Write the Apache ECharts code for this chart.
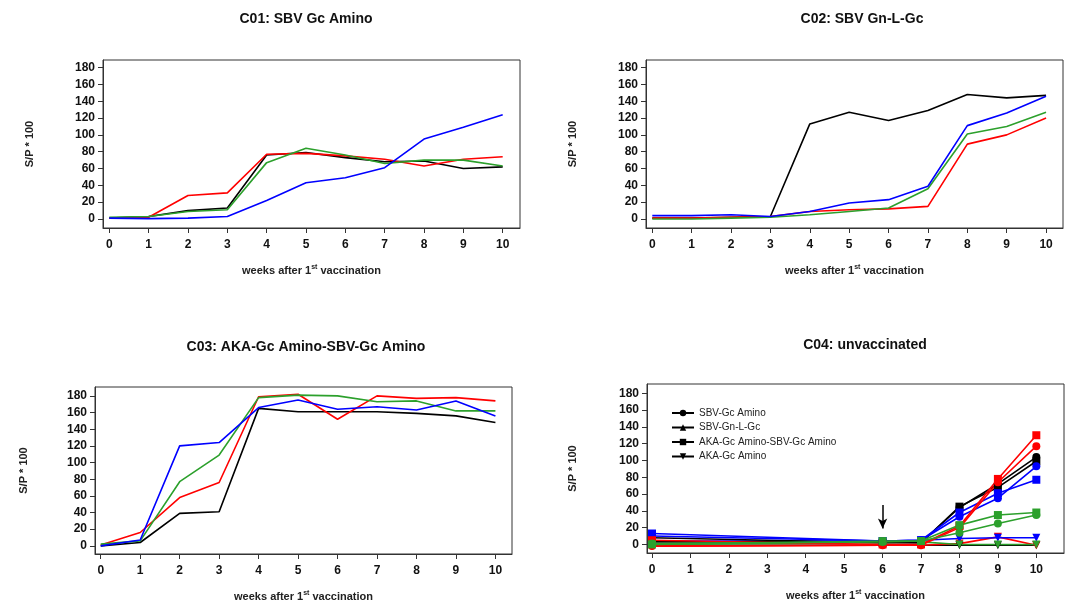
<!DOCTYPE html>
<html>
<head>
<meta charset="utf-8">
<script src="https://cdn.jsdelivr.net/npm/echarts@6/dist/echarts.min.js"></script>
<style>html,body{margin:0;padding:0;background:#fff}#c{width:1072px;height:604px}</style>
</head>
<body>
<div id="c"></div>
<script>
// ---------- data ----------
const weeks = [0,1,2,3,4,5,6,7,8,9,10];
const xTickLabels = [0,1,2,3,4,5,6,7,8,9,10];
const yTickLabels = [0,20,40,60,80,100,120,140,160,180];

const c01Black = [1, 3, 10, 13, 76, 79, 73, 68, 69, 60, 62];
const c01Red   = [1, 2, 28, 31, 77, 78, 75, 71, 63, 71, 74];
const c01Green = [2, 3, 9, 11, 67, 84, 76, 66, 70, 70, 63];
const c01Blue  = [1, 0.5, 1, 3, 22, 43, 49, 61, 95, 109, 124];

const c02Black = [1, 1, 2, 3, 113, 127, 117, 129, 148, 144, 147];
const c02Red   = [1, 1, 2, 3, 9, 11, 12, 15, 89, 100, 120];
const c02Green = [0, 0, 1, 2, 5, 9, 13, 36, 101, 110, 127];
const c02Blue  = [4, 4, 5, 3, 9, 19, 23, 39, 111, 126, 146];

const c03Black = [0, 4, 39, 41, 165, 161, 161, 161, 159, 156, 148];
const c03Red   = [1, 16, 58, 76, 179, 182, 152, 180, 177, 178, 174];
const c03Green = [2, 6, 77, 109, 178, 181, 180, 173, 174, 162, 162];
const c03Blue  = [0, 7, 120, 124, 166, 175, 164, 167, 163, 174, 156];

const weeksC04 = [0, 6, 7, 8, 9, 10];
const groupNames = ['SBV-Gc Amino', 'SBV-Gn-L-Gc', 'AKA-Gc Amino-SBV-Gc Amino', 'AKA-Gc Amino'];
// SBV-Gc Amino (circle)
const c04CircleBlack = [3, 3, 2, 44, 72, 104];
const c04CircleRed   = [-2, -1, -1, 20, 74, 117];
const c04CircleBlue  = [10, 4, 5, 33, 55, 93];
const c04CircleGreen = [1, 3, 4, 14, 25, 35];
// AKA-Gc Amino-SBV-Gc Amino (square)
const c04SquareBlack = [8, 2, 2, 45, 68, 99];
const c04SquareRed   = [5, 0, 0, 22, 78, 130];
const c04SquareBlue  = [13, 4, 5, 38, 61, 77];
const c04SquareGreen = [0, 4, 4, 23, 35, 38];
// AKA-Gc Amino (inverted triangle)
const c04InvBlack = [-1, -1, -1, -1, -1, -1];
const c04InvRed   = [-2, -1, -1, 1, 9, -1];
const c04InvBlue  = [4, 4, 5, 7, 8, 8];
const c04InvGreen = [0, 2, 3, 0, 0, 0];

const arrowWeek = 6, arrowFrom = 47, arrowTo = 19;

const titles = ['C01: SBV Gc Amino', 'C02: SBV Gn-L-Gc', 'C03: AKA-Gc Amino-SBV-Gc Amino', 'C04: unvaccinated'];

// ---------- styles ----------
const COL = {black:'#000000', red:'#ff0000', blue:'#0000ff', green:'#2ca02c'};
const FONT = 'Liberation Sans, Arial, sans-serif';
const pair = (xs, ys) => xs.map((x, i) => [x, ys[i]]);

const grids = [
  {left:103, top:60, width:417, height:168},
  {left:646, top:60, width:417, height:168},
  {left:95, top:387, width:417, height:169},
  {left:647, top:384, width:417, height:169}
];
const xRanges = [[-0.16,10.44],[-0.16,10.43],[-0.145,10.42],[-0.13,10.72]];
const yRanges = [[-10.7,189],[-10.7,189],[-9.8,190.7],[-10.2,191]];
const yNameGaps = [68, 68, 66, 69];
const titlePos = [[301,7],[857,7],[301,335],[860,333]];

const xAxes = grids.map((g, i) => ({
  type:'value', gridIndex:i, min:xRanges[i][0], max:xRanges[i][1], position:'bottom',
  axisLine:{show:true, onZero:false, lineStyle:{color:'#333', width:1}}, splitLine:{show:false},
  axisTick:{show:true, inside:false, length:5, customValues:xTickLabels, lineStyle:{color:'#333'}},
  axisLabel:{customValues:xTickLabels, color:'#111', fontWeight:'bold', fontSize:12, fontFamily:FONT, margin:11},
  name:'{a|weeks after 1}{s|st}{a| vaccination}', nameLocation:'middle', nameGap:36,
  nameTextStyle:{rich:{
    a:{fontSize:11, fontWeight:'bold', fontFamily:FONT, color:'#222', lineHeight:14},
    s:{fontSize:7, fontWeight:'bold', fontFamily:FONT, color:'#222', verticalAlign:'top', lineHeight:14, padding:[0,0,6,0]}
  }}
}));
const yAxes = grids.map((g, i) => ({
  type:'value', gridIndex:i, min:yRanges[i][0], max:yRanges[i][1], position:'left',
  axisLine:{show:true, onZero:false, lineStyle:{color:'#333', width:1}}, splitLine:{show:false},
  axisTick:{show:true, inside:false, length:5, customValues:yTickLabels, lineStyle:{color:'#333'}},
  axisLabel:{customValues:yTickLabels, color:'#111', fontWeight:'bold', fontSize:12, fontFamily:FONT, margin:8},
  name:'S/P * 100', nameLocation:'middle', nameRotate:90, nameGap:yNameGaps[i],
  nameTextStyle:{fontSize:11, fontWeight:'bold', fontFamily:FONT, color:'#222'}
}));

function lineSeries(idx, color, ys) {
  return {type:'line', xAxisIndex:idx, yAxisIndex:idx, data:pair(weeks, ys), showSymbol:false, symbol:'none',
    lineStyle:{color:color, width:1.6}, itemStyle:{color:color}, silent:true, animation:false, z:2};
}
function markerSeries(name, color, symbol, rotate, ys) {
  return {type:'line', name:name, xAxisIndex:3, yAxisIndex:3, data:pair(weeksC04, ys), symbol:symbol, symbolSize:8,
    symbolRotate:rotate, showSymbol:true, lineStyle:{color:color, width:1.6}, itemStyle:{color:color},
    silent:true, animation:false, z:3};
}

const series = [
  lineSeries(0, COL.black, c01Black), lineSeries(0, COL.red, c01Red), lineSeries(0, COL.green, c01Green), lineSeries(0, COL.blue, c01Blue),
  lineSeries(1, COL.black, c02Black), lineSeries(1, COL.red, c02Red), lineSeries(1, COL.green, c02Green), lineSeries(1, COL.blue, c02Blue),
  lineSeries(2, COL.black, c03Black), lineSeries(2, COL.red, c03Red), lineSeries(2, COL.green, c03Green), lineSeries(2, COL.blue, c03Blue),
  markerSeries('inv-black', COL.black, 'triangle', 180, c04InvBlack),
  markerSeries('inv-red', COL.red, 'triangle', 180, c04InvRed),
  markerSeries('inv-blue', COL.blue, 'triangle', 180, c04InvBlue),
  markerSeries('inv-green', COL.green, 'triangle', 180, c04InvGreen),
  markerSeries('sq-black', COL.black, 'rect', 0, c04SquareBlack),
  markerSeries('ci-black', COL.black, 'circle', 0, c04CircleBlack),
  markerSeries('sq-blue', COL.blue, 'rect', 0, c04SquareBlue),
  markerSeries('ci-blue', COL.blue, 'circle', 0, c04CircleBlue),
  markerSeries('ci-red', COL.red, 'circle', 0, c04CircleRed),
  markerSeries('sq-red', COL.red, 'rect', 0, c04SquareRed),
  markerSeries('sq-green', COL.green, 'rect', 0, c04SquareGreen),
  markerSeries('ci-green', COL.green, 'circle', 0, c04CircleGreen)
];
// legend-only series (black), plus the arrow annotation
const legendSymbols = [['circle',0],['triangle',0],['rect',0],['triangle',180]];
groupNames.forEach((n, i) => {
  const s = {type:'line', name:n, xAxisIndex:3, yAxisIndex:3, data:[], symbol:legendSymbols[i][0], symbolRotate:legendSymbols[i][1],
    symbolSize:8, lineStyle:{color:'#000', width:1.6}, itemStyle:{color:'#000'}, animation:false};
  if (i === 0) {
    s.markLine = {silent:true, animation:false, symbol:['none','arrow'], symbolSize:[7,10],
      lineStyle:{color:'#000', width:1.5, type:'solid'}, label:{show:false},
      data:[[{coord:[arrowWeek, arrowFrom]}, {coord:[arrowWeek, arrowTo]}]]};
  }
  series.push(s);
});

const option = {
  backgroundColor:'#fff',
  animation:false,
  title: titles.map((t, i) => ({text:t, left:titlePos[i][0], top:titlePos[i][1], textAlign:'center',
    textStyle:{fontSize:14, fontWeight:'bold', fontFamily:FONT, color:'#111'}})),
  grid: grids.map(g => Object.assign({show:true, borderColor:'#333', borderWidth:1, backgroundColor:'transparent', containLabel:false}, g)),
  xAxis: xAxes,
  yAxis: yAxes,
  legend: {data:groupNames, orient:'vertical', left:666, top:403, itemWidth:22, itemHeight:8, itemGap:4.5,
    textStyle:{fontSize:10, fontFamily:FONT, color:'#222'}, selectedMode:false},
  series: series
};
const chart = echarts.init(document.getElementById('c'), null, {renderer:'canvas'});
chart.setOption(option);
</script>
</body>
</html>
